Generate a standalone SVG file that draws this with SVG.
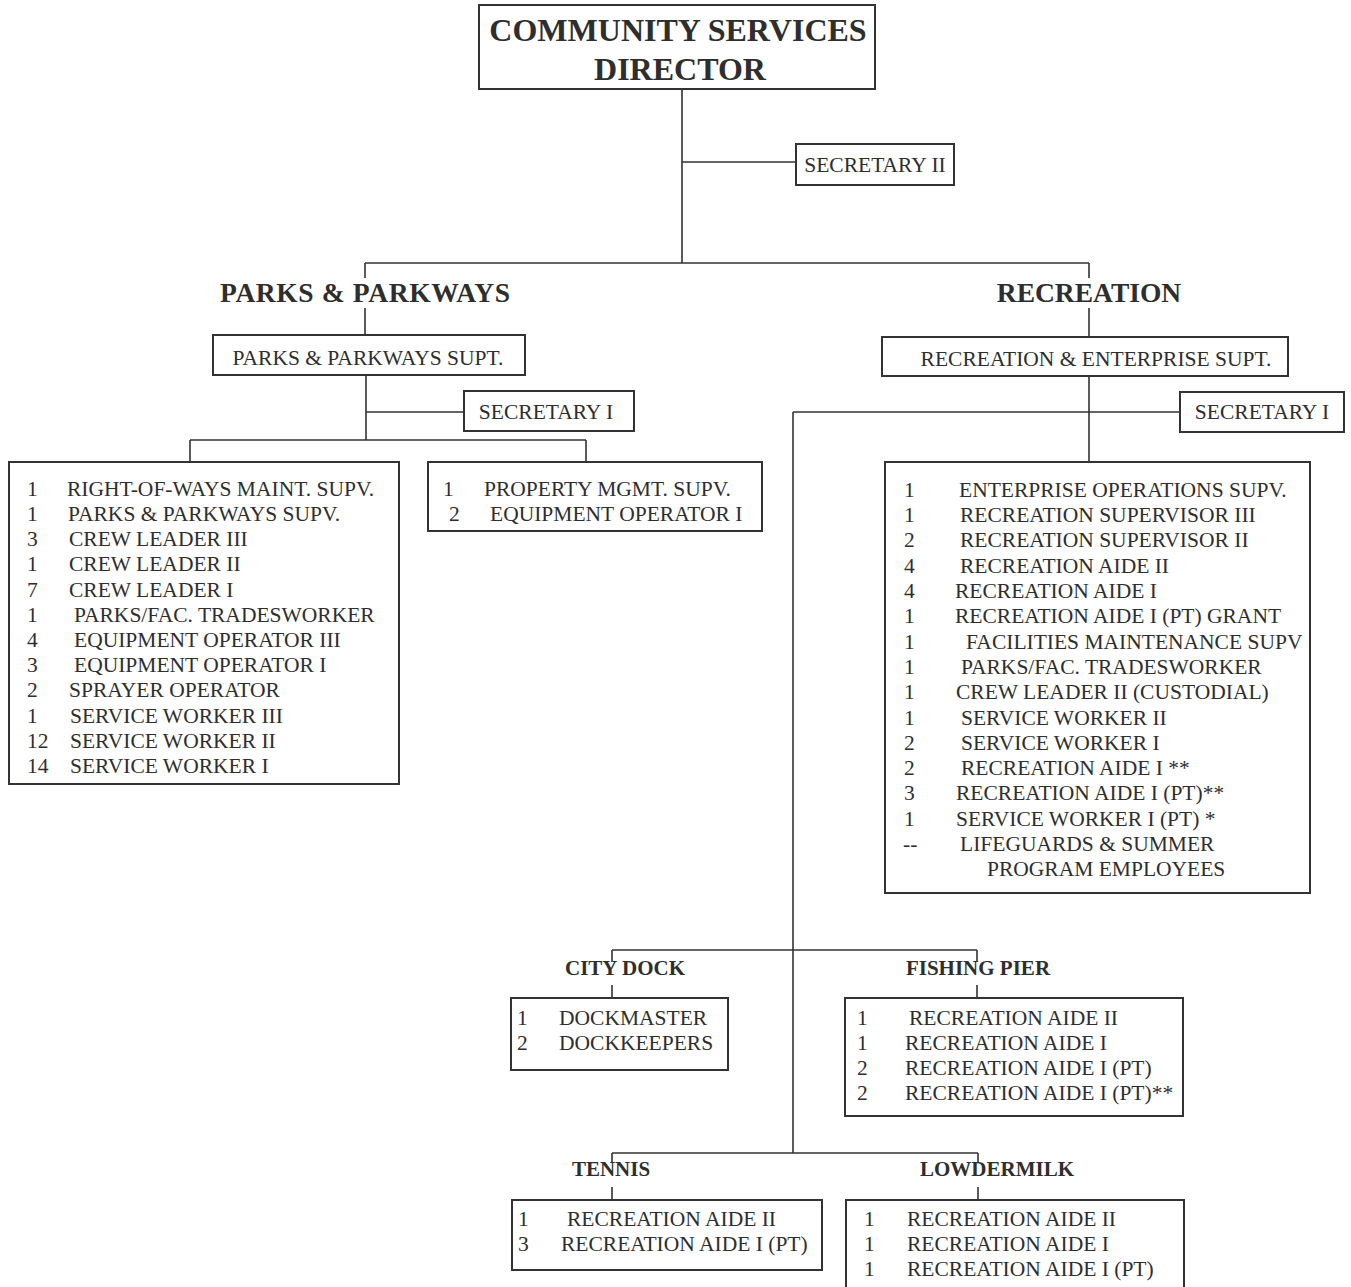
<svg xmlns="http://www.w3.org/2000/svg" width="1351" height="1287" viewBox="0 0 1351 1287">
<style>
.bg{fill:#fff}
.box{fill:none;stroke:#333;stroke-width:2}
.ln{fill:none;stroke:#333;stroke-width:1.6}
text{font-family:"Liberation Serif","Times New Roman",serif;fill:#2e2e2e}
.t1{font-size:32px;font-weight:bold;text-anchor:middle}
.t2{font-size:27.5px;font-weight:bold;text-anchor:middle}
.t3{font-size:21px;font-weight:bold;text-anchor:middle}
.c{font-size:21.5px;text-anchor:middle}
.l{font-size:21.5px}
</style>
<rect class="bg" x="0" y="0" width="1351" height="1287"/>
<g id="connectors">
<path class="ln" d="M682 89V263M682 162H796M365 263H1089M365 263V278M365 308V335M1089 263V278M1089 308V337"/>
<path class="ln" d="M366 375V440M366 412H464M190 440H586M190 440V462M586 440V462"/>
<path class="ln" d="M1089 376V462M793 412H1180M793 412V1153"/>
<path class="ln" d="M612 950H977M612 950V962M977 950V962M612 985V998M977 985V998"/>
<path class="ln" d="M612 1153H978M612 1153V1163M978 1153V1163M612 1187V1200M978 1187V1200"/>
</g>
<g id="director">
<rect class="box" x="479" y="5" width="396" height="84"/>
<text class="t1" x="678" y="41">COMMUNITY SERVICES</text>
<text class="t1" x="680" y="80">DIRECTOR</text>
</g>
<g id="secretary2">
<rect class="box" x="796" y="144" width="158" height="41"/>
<text class="c" x="875" y="172">SECRETARY II</text>
</g>
<g id="parks-title"><text class="t2" x="365" y="302" textLength="290" lengthAdjust="spacing">PARKS &amp; PARKWAYS</text></g>
<g id="rec-title"><text class="t2" x="1089" y="302">RECREATION</text></g>
<g id="parks-supt">
<rect class="box" x="213" y="335" width="312" height="40"/>
<text class="c" x="368" y="365">PARKS &amp; PARKWAYS SUPT.</text>
</g>
<g id="parks-sec">
<rect class="box" x="464" y="391" width="170" height="40"/>
<text class="c" x="546" y="419">SECRETARY I</text>
</g>
<g id="rec-supt">
<rect class="box" x="882" y="337" width="406" height="39"/>
<text class="c" x="1096" y="366">RECREATION &amp; ENTERPRISE SUPT.</text>
</g>
<g id="rec-sec">
<rect class="box" x="1180" y="392" width="164" height="40"/>
<text class="c" x="1262" y="419">SECRETARY I</text>
</g>
<g id="parks-list">
<rect class="box" x="9" y="462" width="390" height="322"/>
<text class="l" x="27" y="496">1</text><text class="l" x="67" y="496">RIGHT-OF-WAYS MAINT. SUPV.</text>
<text class="l" x="27" y="521">1</text><text class="l" x="68" y="521">PARKS &amp; PARKWAYS SUPV.</text>
<text class="l" x="27" y="546">3</text><text class="l" x="69" y="546">CREW LEADER III</text>
<text class="l" x="27" y="571">1</text><text class="l" x="69" y="571">CREW LEADER II</text>
<text class="l" x="27" y="597">7</text><text class="l" x="69" y="597">CREW LEADER I</text>
<text class="l" x="27" y="622">1</text><text class="l" x="74" y="622">PARKS/FAC. TRADESWORKER</text>
<text class="l" x="27" y="647">4</text><text class="l" x="74" y="647">EQUIPMENT OPERATOR III</text>
<text class="l" x="27" y="672">3</text><text class="l" x="74" y="672">EQUIPMENT OPERATOR I</text>
<text class="l" x="27" y="697">2</text><text class="l" x="69" y="697">SPRAYER OPERATOR</text>
<text class="l" x="27" y="723">1</text><text class="l" x="70" y="723">SERVICE WORKER III</text>
<text class="l" x="27" y="748">12</text><text class="l" x="70" y="748">SERVICE WORKER II</text>
<text class="l" x="27" y="773">14</text><text class="l" x="70" y="773">SERVICE WORKER I</text>
</g>
<g id="property-list">
<rect class="box" x="428" y="462" width="334" height="69"/>
<text class="l" x="443" y="496">1</text><text class="l" x="484" y="496">PROPERTY MGMT. SUPV.</text>
<text class="l" x="449" y="521">2</text><text class="l" x="490" y="521">EQUIPMENT OPERATOR I</text>
</g>
<g id="rec-list">
<rect class="box" x="885" y="462" width="425" height="431"/>
<text class="l" x="904" y="497">1</text><text class="l" x="959" y="497">ENTERPRISE OPERATIONS SUPV.</text>
<text class="l" x="904" y="522">1</text><text class="l" x="960" y="522">RECREATION SUPERVISOR III</text>
<text class="l" x="904" y="547">2</text><text class="l" x="960" y="547">RECREATION SUPERVISOR II</text>
<text class="l" x="904" y="573">4</text><text class="l" x="960" y="573">RECREATION AIDE II</text>
<text class="l" x="904" y="598">4</text><text class="l" x="955" y="598">RECREATION AIDE I</text>
<text class="l" x="904" y="623">1</text><text class="l" x="955" y="623">RECREATION AIDE I (PT) GRANT</text>
<text class="l" x="904" y="649">1</text><text class="l" x="966" y="649">FACILITIES MAINTENANCE SUPV</text>
<text class="l" x="904" y="674">1</text><text class="l" x="961" y="674">PARKS/FAC. TRADESWORKER</text>
<text class="l" x="904" y="699">1</text><text class="l" x="956" y="699">CREW LEADER II (CUSTODIAL)</text>
<text class="l" x="904" y="725">1</text><text class="l" x="961" y="725">SERVICE WORKER II</text>
<text class="l" x="904" y="750">2</text><text class="l" x="961" y="750">SERVICE WORKER I</text>
<text class="l" x="904" y="775">2</text><text class="l" x="961" y="775">RECREATION AIDE I **</text>
<text class="l" x="904" y="800">3</text><text class="l" x="956" y="800">RECREATION AIDE I (PT)**</text>
<text class="l" x="904" y="826">1</text><text class="l" x="956" y="826">SERVICE WORKER I (PT) *</text>
<text class="l" x="903" y="851">--</text><text class="l" x="960" y="851">LIFEGUARDS &amp; SUMMER</text>
<text class="l" x="987" y="876">PROGRAM EMPLOYEES</text>
</g>
<g id="city-dock">
<text class="t3" x="625" y="975">CITY DOCK</text>
<rect class="box" x="511" y="998" width="217" height="72"/>
<text class="l" x="517" y="1025">1</text><text class="l" x="559" y="1025">DOCKMASTER</text>
<text class="l" x="517" y="1050">2</text><text class="l" x="559" y="1050">DOCKKEEPERS</text>
</g>
<g id="fishing-pier">
<text class="t3" x="978" y="975">FISHING PIER</text>
<rect class="box" x="845" y="998" width="338" height="118"/>
<text class="l" x="857" y="1025">1</text><text class="l" x="909" y="1025">RECREATION AIDE II</text>
<text class="l" x="857" y="1050">1</text><text class="l" x="905" y="1050">RECREATION AIDE I</text>
<text class="l" x="857" y="1075">2</text><text class="l" x="905" y="1075">RECREATION AIDE I (PT)</text>
<text class="l" x="857" y="1100">2</text><text class="l" x="905" y="1100">RECREATION AIDE I (PT)**</text>
</g>
<g id="tennis">
<text class="t3" x="611" y="1176">TENNIS</text>
<rect class="box" x="512" y="1200" width="310" height="70"/>
<text class="l" x="518" y="1226">1</text><text class="l" x="567" y="1226">RECREATION AIDE II</text>
<text class="l" x="518" y="1251">3</text><text class="l" x="561" y="1251">RECREATION AIDE I (PT)</text>
</g>
<g id="lowdermilk">
<text class="t3" x="997" y="1176">LOWDERMILK</text>
<rect class="box" x="846" y="1200" width="338" height="95"/>
<text class="l" x="864" y="1226">1</text><text class="l" x="907" y="1226">RECREATION AIDE II</text>
<text class="l" x="864" y="1251">1</text><text class="l" x="907" y="1251">RECREATION AIDE I</text>
<text class="l" x="864" y="1276">1</text><text class="l" x="907" y="1276">RECREATION AIDE I (PT)</text>
</g>
</svg>
